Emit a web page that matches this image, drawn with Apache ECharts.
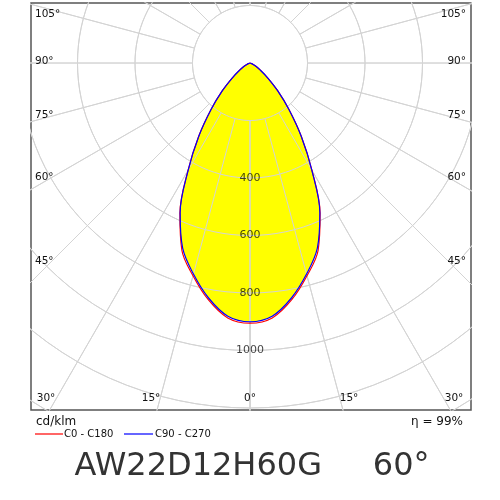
<!DOCTYPE html>
<html>
<head>
<meta charset="utf-8">
<script src="https://cdn.jsdelivr.net/npm/echarts@6/dist/echarts.min.js"></script>
<style>html,body{margin:0;padding:0;background:#fff}#chart{width:500px;height:500px}</style>
</head>
<body>
<div id="chart"></div>
<script>
// gamma angles (deg) and intensities in cd/klm
const angles = [0, 5, 10, 15, 20, 25, 30, 35, 40, 45, 50, 55, 60, 65, 70, 75, 80, 85, 90];
const c0c180 = [905, 890, 836, 766, 693, 577, 431, 311, 211, 136, 80, 45, 25, 12, 6, 3, 1, 0, 0];
const c90c270 = [900, 884, 830, 760, 685, 575, 430, 310, 210, 135, 80, 45, 25, 12, 6, 3, 1, 0, 0];
const rings = [200, 400, 600, 800, 1000, 1200, 1400];
const ringLabels = [400, 600, 800, 1000];
const spokes = [0, 15, 30, 45, 60, 75, 90, 105, 120, 135, 150, 165, 180];
const leftLabels = ['105°', '90°', '75°', '60°', '45°'];
const bottomLabels = ['30°', '15°', '0°', '15°', '30°'];
const title = 'AW22D12H60G     60°';
const efficiency = 'η = 99%';

const rad = d => d * Math.PI / 180;
const toXY = (a, r) => [r * Math.sin(rad(a)), -r * Math.cos(rad(a))];

function loop(vals) {
  const pts = [];
  for (let i = angles.length - 1; i >= 0; i--) pts.push(toXY(-angles[i], vals[i]));
  for (let i = 1; i < angles.length; i++) pts.push(toXY(angles[i], vals[i]));
  return pts;
}

const gridColor = '#d4d4d4';
const series = [];

function addGrid(z) {
  rings.forEach(r => {
    const pts = [];
    for (let a = -180; a <= 180; a += 3) pts.push(toXY(a, r));
    series.push({ type: 'line', data: pts, symbol: 'none', silent: true,
      lineStyle: { color: gridColor, width: 1 }, z });
  });
  spokes.forEach(a => {
    [a, -a].forEach(s => {
      series.push({ type: 'line', data: [toXY(s, 200), toXY(s, 3000)], symbol: 'none', silent: true,
        lineStyle: { color: gridColor, width: 1 }, z });
    });
  });
}

addGrid(1);
const fillPts = loop(c90c270);
series.push({
  type: 'custom', z: 2, silent: true,
  data: [0],
  renderItem: (params, api) => ({
    type: 'polygon',
    shape: { points: fillPts.map(p => api.coord(p)), smooth: 0.35 },
    style: { fill: '#ffff00' }
  })
});
addGrid(3);

series.push({ type: 'line', data: loop(c0c180), symbol: 'none', smooth: 0.35, lineStyle: { color: '#ff0000', width: 1.2 }, z: 4 });
series.push({ type: 'line', data: loop(c90c270), symbol: 'none', smooth: 0.35, lineStyle: { color: '#0000ff', width: 1.2 }, z: 5 });
series.push({
  type: 'scatter', symbolSize: 0, z: 6,
  data: ringLabels.map(r => [0, -r, r]),
  label: { show: true, formatter: p => p.value[2], color: '#111', fontSize: 11, fontFamily: 'DejaVu Sans', position: 'inside' }
});

const leftY = [16, 63, 117, 179, 263];
const bottomX = [46, 151, 250, 349, 454];
const font = 'DejaVu Sans';
const graphic = [];
leftLabels.forEach((t, i) => {
  graphic.push({ type: 'text', left: 35, top: leftY[i] - 7, z: 10,
    style: { text: t, fontSize: 10.5, fill: '#111', fontFamily: font } });
  graphic.push({ type: 'text', right: 34, top: leftY[i] - 7, z: 10,
    style: { text: t, fontSize: 10.5, fill: '#111', fontFamily: font } });
});
bottomLabels.forEach((t, i) => {
  graphic.push({ type: 'text', x: bottomX[i], y: 398, z: 10,
    style: { text: t, fontSize: 10.5, fill: '#111', fontFamily: font, align: 'center', verticalAlign: 'middle' } });
});
graphic.push({ type: 'text', x: 36, y: 422, style: { text: 'cd/klm', fontSize: 12, fill: '#111', fontFamily: font, verticalAlign: 'middle' } });
graphic.push({ type: 'text', x: 463, y: 422, style: { text: efficiency, fontSize: 12, fill: '#111', fontFamily: font, align: 'right', verticalAlign: 'middle' } });
graphic.push({ type: 'line', shape: { x1: 35, y1: 434, x2: 63, y2: 434 }, style: { stroke: '#ff0000', lineWidth: 1.2 } });
graphic.push({ type: 'text', x: 64, y: 434, style: { text: 'C0 - C180', fontSize: 10, fill: '#111', fontFamily: font, verticalAlign: 'middle' } });
graphic.push({ type: 'line', shape: { x1: 124, y1: 434, x2: 153, y2: 434 }, style: { stroke: '#0000ff', lineWidth: 1.2 } });
graphic.push({ type: 'text', x: 155, y: 434, style: { text: 'C90 - C270', fontSize: 10, fill: '#111', fontFamily: font, verticalAlign: 'middle' } });
graphic.push({ type: 'text', x: 252, y: 467, style: { text: title, fontSize: 32, fill: '#333', fontFamily: font, align: 'center', verticalAlign: 'middle' } });

const chart = echarts.init(document.getElementById('chart'));
chart.setOption({
  animation: false,
  grid: { left: 31, right: 29, top: 3, bottom: 90, show: true, borderColor: '#555', borderWidth: 1.5 },
  xAxis: { type: 'value', min: -219 / 0.2875, max: 221 / 0.2875, show: false },
  yAxis: { type: 'value', min: -347 / 0.2875, max: 60 / 0.2875, show: false },
  series,
  graphic
});
</script>
</body>
</html>
